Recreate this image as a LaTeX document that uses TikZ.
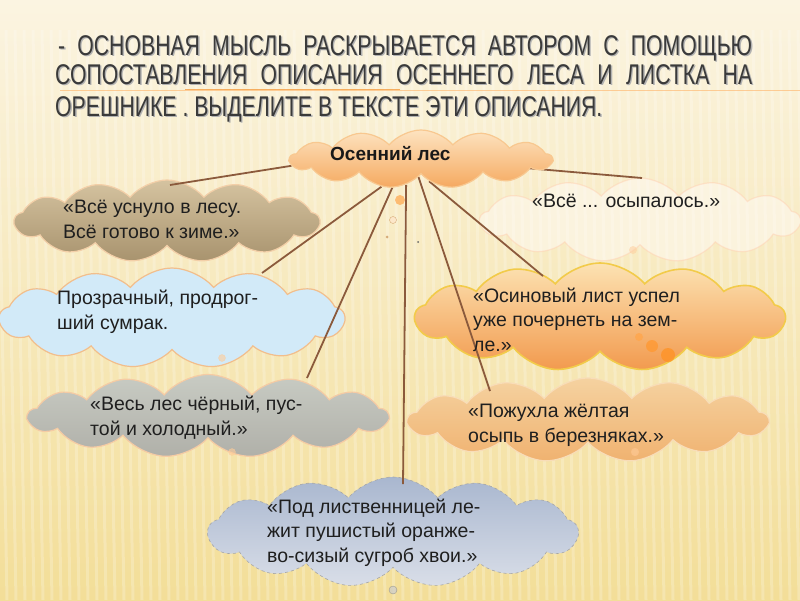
\documentclass[tikz,border=0pt]{standalone}
\usepackage{fontspec}
\setmainfont{Liberation Sans}
\newfontfamily\titlefont[FakeStretch=0.745]{Liberation Sans}
\usetikzlibrary{shapes.symbols}
\pgfdeclarelayer{back}
\pgfdeclarelayer{front}
\pgfsetlayers{back,main,front}
\definecolor{bgtop}{HTML}{FBF4E1}
\definecolor{bgbot}{HTML}{F3DE98}
\definecolor{conncol}{HTML}{8B5A3C}
\definecolor{titlecol}{HTML}{3A3A3A}
\begin{document}
\begin{tikzpicture}[x=1pt,y=-1pt,
  cloudbox/.style={cloud, cloud puffs=13, cloud puff arc=100, cloud ignores aspect, inner sep=0pt, line width=1.2pt},
  txt/.style={anchor=base west, align=left, inner sep=0pt, font=\fontsize{19.5}{24.5}\selectfont, text=black!88},
  conn/.style={draw=conncol, line width=1.8pt},
  bubble/.style={circle, inner sep=0pt},
  ttl/.style={anchor=base west, inner sep=0pt, font=\titlefont\fontsize{28.5}{30}\selectfont}
]
\useasboundingbox (0,0) rectangle (800,600);

% background
\begin{pgfonlayer}{back}
\shade[top color=bgtop, bottom color=bgbot] (0,0) rectangle (800,600);
\foreach \x in {-30,-21,...,820}
  \draw[white, opacity=0.22, line width=3pt] (\x,30) -- (\x+10,600);
\draw[orange!60, line width=1pt, opacity=0.6] (60,90) -- (800,90);
\draw[orange!80!brown, line width=1pt, opacity=0.6] (185,89) -- (400,89);
% title shadow
\foreach \ty/\tx/\tw/\txt in {55/58/694/{- ОСНОВНАЯ МЫСЛЬ РАСКРЫВАЕТСЯ АВТОРОМ С ПОМОЩЬЮ}, 84/55/697/{СОПОСТАВЛЕНИЯ ОПИСАНИЯ ОСЕННЕГО ЛЕСА И ЛИСТКА НА}}
  \path (\tx+1.3,\ty+1.3) node[ttl, text=black!30] {\makebox[\tw pt][s]{\txt}};
\path (56.3,117.3) node[ttl, text=black!30] {ОРЕШНИКЕ . ВЫДЕЛИТЕ В ТЕКСТЕ ЭТИ ОПИСАНИЯ.};
\end{pgfonlayer}

% title
\node[ttl, text=titlecol] (ttl1) at (58,55) {\makebox[694pt][s]{- ОСНОВНАЯ МЫСЛЬ РАСКРЫВАЕТСЯ АВТОРОМ С ПОМОЩЬЮ}};
\node[ttl, text=titlecol] (ttl2) at (55,84) {\makebox[697pt][s]{СОПОСТАВЛЕНИЯ ОПИСАНИЯ ОСЕННЕГО ЛЕСА И ЛИСТКА НА}};
\node[ttl, text=titlecol] (ttl3) at (55,116) {ОРЕШНИКЕ . ВЫДЕЛИТЕ В ТЕКСТЕ ЭТИ ОПИСАНИЯ.};

% central cloud (on top of the connectors)
\begin{pgfonlayer}{front}
\node[cloudbox, top color={rgb,255:red,253;green,227;blue,192}, bottom color={rgb,255:red,245;green,169;blue,96}, draw={rgb,255:red,248;green,200;blue,144}, minimum width=262pt, minimum height=58pt] (c0) at (421,159) {};
\node[anchor=base west, inner sep=0pt, font=\bfseries\fontsize{19}{22}\selectfont, text=black!90] (t0) at (330,160) {Осенний лес};
\end{pgfonlayer}

% clouds
\node[cloudbox, fill=white!97!orange, opacity=0.5, draw=red!20!orange!30, minimum width=320pt, minimum height=84pt] (c3) at (640,220) {};
\node[cloudbox, top color={rgb,255:red,213;green,195;blue,160}, bottom color={rgb,255:red,168;green,147;blue,110}, draw={rgb,255:red,243;green,207;blue,168}, minimum width=305pt, minimum height=82pt] (c2) at (167,221) {};
\node[cloudbox, fill={rgb,255:red,210;green,234;blue,248}, draw={rgb,255:red,242;green,190;blue,140}, minimum width=345pt, minimum height=100pt] (c4) at (172,318) {};
\node[cloudbox, top color={rgb,255:red,252;green,226;blue,178}, bottom color={rgb,255:red,242;green,154;blue,78}, draw={rgb,255:red,242;green,203;blue,74}, line width=1.6pt, minimum width=370pt, minimum height=108pt] (c5) at (600,317) {};
\node[cloudbox, top color={rgb,255:red,200;green,203;blue,195}, bottom color={rgb,255:red,176;green,176;blue,169}, draw={rgb,255:red,245;green,203;blue,164}, minimum width=360pt, minimum height=83pt] (c6) at (208,416) {};
\node[cloudbox, top color={rgb,255:red,245;green,210;blue,160}, bottom color={rgb,255:red,240;green,178;blue,112}, draw={rgb,255:red,248;green,221;blue,184}, minimum width=360pt, minimum height=84pt] (c7) at (588,420) {};
\node[cloudbox, top color={rgb,255:red,169;green,183;blue,207}, bottom color={rgb,255:red,217;green,222;blue,232}, draw=gray!70, dashed, line width=0.6pt, minimum width=370pt, minimum height=110pt] (c8) at (393,532) {};

% connector ends (on the clouds' upper edges)
\coordinate (e2) at (170,185);
\coordinate (e3) at (642,178);
\coordinate (e4) at (262,273);
\coordinate (e5) at (543,276);
\coordinate (e6) at (307,378);
\coordinate (e7) at (490,391);
\coordinate (e8) at (403,484);

% connectors
\draw[conn] (c0.183) -- (e2);
\draw[conn] (c0.215) -- (e4);
\draw[conn] (c0.225) -- (e6);
\draw[conn] (c0.240) -- (e8);
\draw[conn] (c0.262) -- (e7);
\draw[conn] (c0.290) -- (e5);
\draw[conn] (c0.center) -- (e3);

% small bubbles
\node[bubble, fill=orange!70, opacity=0.7, minimum size=10pt] (b1) at (400,200) {};
\node[bubble, draw=orange!50!gray, fill=white!80!orange, opacity=0.6, minimum size=7pt] (b2) at (393,220) {};
\node[bubble, fill=orange!50!gray, opacity=0.6, minimum size=3pt] (b3) at (387,237) {};
\node[bubble, fill=black!60, minimum size=2pt] (b4) at (418,242) {};
\node[bubble, fill=orange!70, opacity=0.8, minimum size=8pt] (b5) at (639,337) {};
\node[bubble, fill=orange!80, opacity=0.8, minimum size=12pt] (b6) at (652,346) {};
\node[bubble, fill=orange!85, opacity=0.8, minimum size=14pt] (b7) at (668,355) {};
\node[bubble, draw=orange!40, fill=white!60!orange, opacity=0.6, minimum size=7pt] (b8) at (222,358) {};
\node[bubble, draw=orange!40, fill=white!60!orange, opacity=0.6, minimum size=7pt] (b9) at (232,452) {};
\node[bubble, draw=orange!50, fill=orange!40, opacity=0.6, minimum size=8pt] (b10) at (635,452) {};
\node[bubble, draw=gray, fill=gray!40, opacity=0.7, minimum size=8pt] (b11) at (393,590) {};
\node[bubble, fill=orange!40, opacity=0.5, minimum size=8pt] (b12) at (633,250) {};

% texts (y = baseline of the last line)
\node[txt] (t2) at (63,238) {«Всё уснуло в лесу.\\Всё готово к зиме.»};
\node[txt] (t3) at (532,207) {«Всё ... осыпалось.»};
\node[txt] (t4) at (57,329) {Прозрачный, продрог-\\ший сумрак.};
\node[txt] (t5) at (473,351) {«Осиновый лист успел\\уже почернеть на зем-\\ле.»};
\node[txt] (t6) at (90,435) {«Весь лес чёрный, пус-\\той и холодный.»};
\node[txt] (t7) at (468,442) {«Пожухла жёлтая\\осыпь в березняках.»};
\node[txt] (t8) at (267,562) {«Под лиственницей ле-\\жит пушистый оранже-\\во-сизый сугроб хвои.»};
\end{tikzpicture}
\end{document}
